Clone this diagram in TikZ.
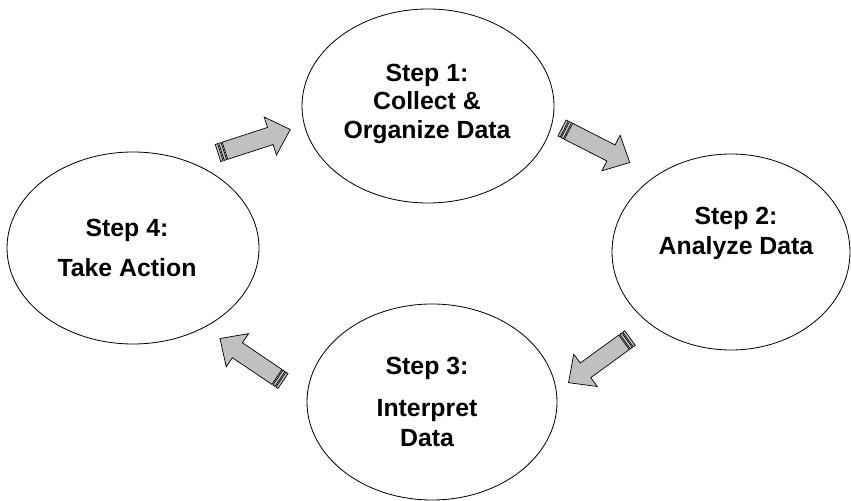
\documentclass[tikz,border=0pt]{standalone}
\usepackage{fontspec}
\setmainfont{Liberation Sans}
\usepackage{tikz}
\usetikzlibrary{shapes.geometric}

\definecolor{arrowfill}{RGB}{192,192,192}

\tikzset{
  stepellipse/.style={draw, ellipse, line width=0.7pt, inner sep=0pt},
  steptext/.style={align=center, font=\fontsize{21.2}{24.5}\selectfont\bfseries},
  stripearrow/.pic={
    \filldraw[fill=arrowfill, line width=0.6pt] (0,-0.27) rectangle (0.075,0.27);
    \filldraw[fill=arrowfill, line width=0.6pt] (0.11,-0.27) rectangle (0.185,0.27);
    \filldraw[fill=arrowfill, line width=0.6pt, line join=miter]
      (0.22,-0.27) -- (1.65,-0.27) -- (1.65,-0.6) -- (2.28,0)
      -- (1.65,0.6) -- (1.65,0.27) -- (0.22,0.27) -- cycle;
  }
}

\begin{document}
\begin{tikzpicture}
\useasboundingbox (0,0) rectangle (25.53,15);

\node[stepellipse, minimum width=7.56cm, minimum height=5.82cm] (s1) at (12.84,11.82) {};
\node[stepellipse, minimum width=7.14cm, minimum height=5.88cm] (s2) at (21.93,7.44) {};
\node[stepellipse, minimum width=7.50cm, minimum height=5.88cm] (s3) at (12.96,2.94) {};
\node[stepellipse, minimum width=7.56cm, minimum height=5.76cm] (s4) at (3.99,7.56) {};

\node[steptext] (t1) at ([xshift=-0.03cm, yshift=0.07cm]s1.center) {Step 1:\\ Collect \&\\ Organize Data};
\node[steptext] (t2) at ([xshift=0.15cm, yshift=0.57cm]s2.center) {Step 2:\\[1pt] Analyze Data};
\node[steptext] (t3) at ([xshift=-0.15cm]s3.center) {Step 3:\\[12pt] Interpret\\[1pt] Data};
\node[steptext] (t4) at ([xshift=-0.18cm]s4.center) {Step 4:\\[9pt] Take Action};

\pic[rotate=18] (a1) at (6.54,10.41) {stripearrow};
\pic[rotate=-27] (a2) at (16.86,11.16) {stripearrow};
\pic[rotate=216] (a3) at (18.9,4.86) {stripearrow};
\pic[rotate=146] (a4) at (8.49,3.57) {stripearrow};

\end{tikzpicture}
\end{document}
